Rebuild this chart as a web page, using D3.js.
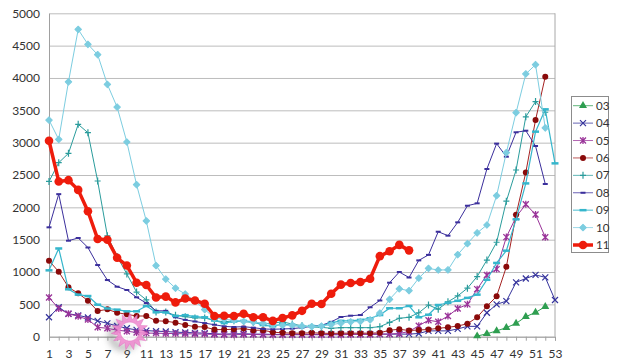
<!DOCTYPE html>
<html>
<head>
<meta charset="utf-8">
<title>weekly chart</title>
<script src="https://cdn.jsdelivr.net/npm/d3@7"></script>
<style>
  body { margin: 0; background: #fff; }
  text { font-family: Lato, "DejaVu Sans", sans-serif; fill: #333; }
</style>
</head>
<body>
<script>
  const width = 619;
  const height = 364;

  // weeks 1..53
  const weeks = d3.range(1, 54);
  const yTicks = [0, 500, 1000, 1500, 2000, 2500, 3000, 3500, 4000, 4500, 5000];

  const s03 = Array(44).fill(null).concat([10, 45, 90, 140, 205, 310, 375, 465, null]);
  const s04 = [300, 455, 355, 330, 297, 245, 207, 165, 130, 105, 95, 85, 80, 70, 65, 60, 55, 45, 40, 45,
    45, 40, 40, 35, 35, 35, 35, 35, 35, 35, 40, 40, 40, 40, 40, 40, 40, 40, 50, 90,
    90, 90, 120, 160, 160, 370, 500, 550, 840, 900, 955, 918, 567];
  const s05 = [605, 435, 355, 315, 265, 145, 130, 100, 85, 65, 55, 55, 50, 48, 45, 42, 40, 35, 30, 30,
    35, 35, 30, 30, 30, 30, 30, 30, 30, 30, 30, 35, 35, 35, 40, 40, 50, 80, 170, 255,
    230, 320, 435, 500, 735, 955, 1045, 1540, 1850, 2047, 1890, 1537, null];
  const s06 = [1175, 1005, 764, 671, 557, 397, 423, 371, 346, 320, 320, 245, 240, 217, 181, 155, 150, 110, 110, 115,
    125, 100, 100, 70, 60, 55, 55, 60, 55, 50, 55, 55, 55, 55, 60, 100, 115, 95, 105, 110,
    130, 145, 165, 200, 300, 470, 625, 1080, 1885, 2540, 3350, 4020, null];
  const s07 = [2400, 2690, 2835, 3283, 3154, 2407, 1560, 1240, 970, 690, 570, 380, 380, 330, 310, 290, 290, 250, 230, 245,
    235, 220, 200, 210, 230, 195, 170, 150, 145, 130, 140, 140, 140, 140, 155, 220, 285, 300, 370, 490,
    425, 540, 630, 750, 930, 1185, 1460, 2095, 2577, 3400, 3635, 3470, null];
  const s08 = [1691, 2204, 1484, 1526, 1379, 1108, 876, 773, 722, 609, 520, 400, 400, 300, 260, 235, 210, 185, 160, 150,
    155, 140, 120, 115, 120, 125, 140, 160, 175, 230, 305, 325, 335, 455, 560, 835, 1000, 915, 1180, 1265,
    1623, 1562, 1768, 2025, 2062, 2593, 2985, 2783, 3160, 3185, 2948, 2361, null];
  const s09 = [1026, 1364, 733, 650, 629, 495, 436, 418, 392, 392, 474, 377, 375, 320, 333, 310, 300, 250, 210, 235,
    245, 230, 180, 160, 195, 180, 155, 165, 165, 215, 245, 245, 260, 285, 335, 440, 440, 475, 300, 340,
    490, 525, 555, 600, 650, 880, 1140, 1330, 1815, 2370, 3170, 3515, 2680];
  const s10 = [3350, 3050, 3940, 4750, 4520, 4360, 3900, 3550, 3010, 2350, 1790, 1100, 890, 750, 660, 550, 420, 290, 270, 255,
    235, 225, 210, 185, 175, 180, 165, 155, 165, 185, 210, 230, 235, 260, 365, 578, 740, 711, 905, 1055,
    1031, 1033, 1268, 1440, 1605, 1727, 2180, 2845, 3463, 4062, 4206, 3227, null];
  const s11 = [3030, 2400, 2420, 2270, 1940, 1510, 1500, 1220, 1100, 835, 800, 605, 620, 530, 590, 560, 510, 320, 325, 320,
    355, 300, 300, 245, 290, 330, 400, 510, 505, 665, 805, 830, 845, 895, 1245, 1320, 1420, 1335];

  const names = ['03', '04', '05', '06', '07', '08', '09', '10', '11'];
  const values = [s03, s04, s05, s06, s07, s08, s09, s10, s11];

  // look of each series
  const looks = {
    '03': { color: '#2e9e50', mark: 'triangle', w: 1 },
    '04': { color: '#35339c', mark: 'x', w: 1 },
    '05': { color: '#9a3399', mark: 'star', w: 1 },
    '06': { color: '#a52222', mark: 'circle', mfill: '#8a0a0a', w: 1 },
    '07': { color: '#2a9c9c', mark: 'plus', w: 1 },
    '08': { color: '#3b2f9c', mark: 'dash', w: 1 },
    '09': { color: '#35b6cc', mark: 'dash2', w: 1.2 },
    '10': { color: '#7ccde0', mark: 'diamond', w: 1 },
    '11': { color: '#ee1c0c', mark: 'bigcircle', w: 3.5 }
  };

  const plotL = 49, plotR = 555, plotT = 13.3, plotB = 336.7;

  const x = d3.scaleLinear().domain([1, 53]).range([plotL, plotR]);
  const y = d3.scaleLinear().domain([0, 5000]).range([plotB, plotT]);

  const svg = d3.select('body').append('svg')
    .attr('width', width)
    .attr('height', height);

  const defs = svg.append('defs');
  const blur = defs.append('filter').attr('id', 'soft')
    .attr('x', '-50%').attr('y', '-50%').attr('width', '200%').attr('height', '200%');
  blur.append('feGaussianBlur').attr('stdDeviation', 3);

  // grid
  svg.append('g')
    .attr('transform', `translate(${plotL},0)`)
    .call(d3.axisLeft(y).tickValues(yTicks).tickSize(-(plotR - plotL)).tickFormat(''))
    .call(g => g.select('.domain').remove())
    .call(g => g.selectAll('line').attr('stroke', '#bdbdbd').attr('stroke-width', 1));

  // right border
  svg.append('line')
    .attr('x1', plotR).attr('x2', plotR).attr('y1', plotT).attr('y2', plotB)
    .attr('stroke', '#a8a8a8');

  // y labels
  svg.append('g')
    .attr('transform', `translate(${plotL},0)`)
    .call(d3.axisLeft(y).tickValues(yTicks).tickSize(0).tickPadding(9).tickFormat(d3.format('d')))
    .call(g => g.select('.domain').attr('stroke', '#a0a0a0'))
    .call(g => g.selectAll('text').style('font-size', '12px').attr('fill', '#333'));

  // x axis
  svg.append('g')
    .attr('transform', `translate(0,${plotB})`)
    .call(d3.axisBottom(x).tickValues(weeks).tickSize(4).tickPadding(9)
      .tickFormat(d => d % 2 ? d : ''))
    .call(g => g.select('.domain').attr('stroke', '#a0a0a0'))
    .call(g => g.selectAll('line').attr('stroke', '#a0a0a0'))
    .call(g => g.selectAll('text').style('font-size', '12px').attr('fill', '#333'));

  // pink burst near week 9: ring of spikes with an open middle
  const burst = svg.append('g').attr('transform', `translate(${x(9.3)},${y(80)})`);
  const spikes = 15;
  const burstPts = d3.range(spikes * 2).map(i => {
    const r = i % 2 ? 12 : 18.5;
    const a = i * Math.PI / spikes;
    return [r * Math.sin(a), -r * Math.cos(a)];
  });
  const hole = d3.range(40).map(i => {
    const a = i * Math.PI / 20;
    return [9.5 * Math.sin(a), -9.5 * Math.cos(a)];
  });
  const ringPath = 'M' + burstPts.map(p => p.join(',')).join('L') + 'Z' +
    'M' + hole.map(p => p.join(',')).join('L') + 'Z';
  burst.append('path')
    .attr('d', ringPath).attr('fill-rule', 'evenodd')
    .attr('transform', 'translate(-6,4)')
    .attr('fill', '#666').attr('opacity', 0.55)
    .attr('filter', 'url(#soft)');
  burst.append('circle').attr('r', 10).attr('fill', '#fff').attr('opacity', 0.85);

  function drawMark(g, type, color, fill) {
    const s = 3;
    if (type === 'triangle') {
      g.append('path').attr('d', d3.symbol(d3.symbolTriangle, 28)()).attr('fill', color);
    } else if (type === 'x') {
      g.append('path').attr('d', `M${-s},${-s}L${s},${s}M${-s},${s}L${s},${-s}`)
        .attr('stroke', color).attr('stroke-width', 1.2);
    } else if (type === 'star') {
      g.append('path').attr('d', `M${-s},${-s}L${s},${s}M${-s},${s}L${s},${-s}M0,${-s - 0.5}L0,${s + 0.5}`)
        .attr('stroke', color).attr('stroke-width', 1.3);
    } else if (type === 'circle') {
      g.append('circle').attr('r', 3).attr('fill', fill || color);
    } else if (type === 'plus') {
      g.append('path').attr('d', `M${-s},0L${s},0M0,${-s - 0.5}L0,${s + 0.5}`)
        .attr('stroke', color).attr('stroke-width', 1.2);
    } else if (type === 'dash') {
      g.append('path').attr('d', 'M-2.5,0L2.5,0').attr('stroke', color).attr('stroke-width', 2);
    } else if (type === 'dash2') {
      g.append('path').attr('d', 'M-3.5,0L3.5,0').attr('stroke', color).attr('stroke-width', 2.5);
    } else if (type === 'diamond') {
      g.append('rect').attr('x', -2.3).attr('y', -2.3).attr('width', 4.6).attr('height', 4.6)
        .attr('transform', 'rotate(45)').attr('fill', color)
        .attr('stroke', color).attr('stroke-width', 1).attr('stroke-linejoin', 'round');
    } else if (type === 'bigcircle') {
      g.append('circle').attr('r', 4.3).attr('fill', color);
    }
  }

  const line = d3.line()
    .defined(d => d.v != null)
    .x(d => x(d.w))
    .y(d => y(d.v));

  names.forEach((name, k) => {
    const look = looks[name];
    const pts = weeks.map((w, i) => ({ w: w, v: values[k][i] == null ? null : values[k][i] }));
    const g = svg.append('g');
    g.append('path')
      .datum(pts)
      .attr('d', line)
      .attr('fill', 'none')
      .attr('stroke', look.color)
      .attr('stroke-width', look.w)
      .attr('stroke-linejoin', 'round');
    g.selectAll('g.m')
      .data(pts.filter(d => d.v != null))
      .enter()
      .append('g')
      .attr('class', 'm')
      .attr('transform', d => `translate(${x(d.w)},${y(d.v)})`)
      .each(function () { drawMark(d3.select(this), look.mark, look.color, look.mfill); });
  });

  // pink spikes drawn over the lines
  svg.append('path')
    .attr('transform', `translate(${x(9.3)},${y(80)})`)
    .attr('d', ringPath).attr('fill-rule', 'evenodd')
    .attr('fill', '#f08fd2').attr('opacity', 0.9)
    .attr('stroke', '#e070c0').attr('stroke-width', 0.6);

  // legend
  const legend = svg.append('g');
  legend.append('rect')
    .attr('x', 571.5).attr('y', 96.5).attr('width', 37).attr('height', 156)
    .attr('fill', '#fff').attr('stroke', '#8c8c8c');
  const ly = d3.scalePoint().domain(names).range([105.7, 245]);
  names.forEach(name => {
    const look = looks[name];
    const row = legend.append('g').attr('transform', `translate(0,${ly(name)})`);
    row.append('line').attr('x1', 573).attr('x2', 593).attr('y1', 0).attr('y2', 0)
      .attr('stroke', look.color).attr('stroke-width', look.w)
      .attr('opacity', name === '11' ? 1 : 0.75);
    drawMark(row.append('g').attr('transform', 'translate(583,0)'), look.mark, look.color, look.mfill);
    row.append('text').attr('x', 596).attr('y', 4)
      .style('font-size', '11.5px').text(name);
  });
</script>
</body>
</html>
